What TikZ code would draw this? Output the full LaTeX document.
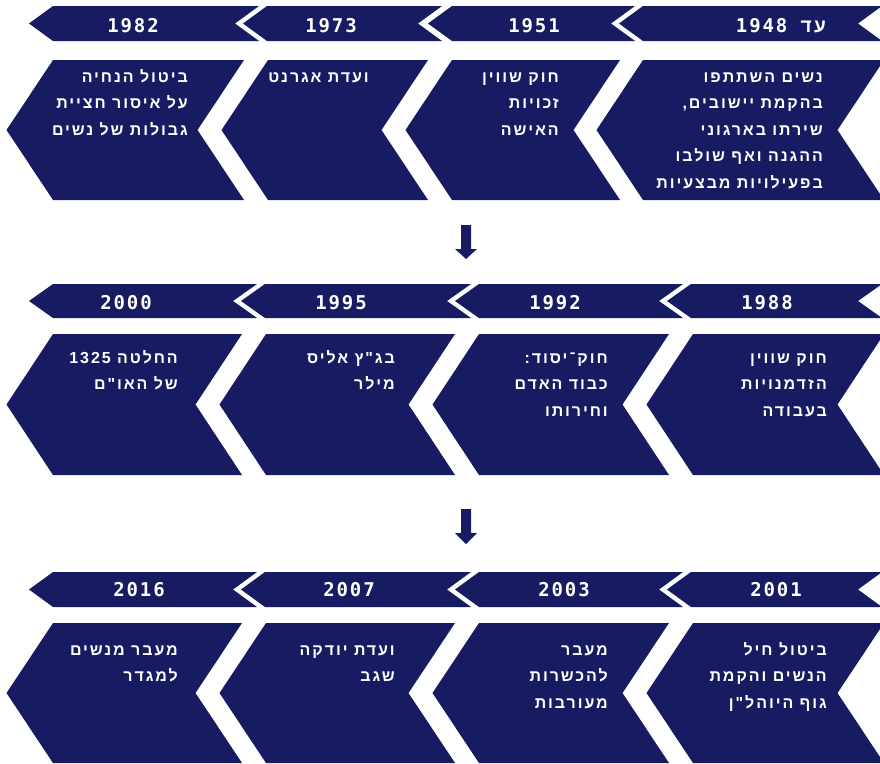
\documentclass[tikz,border=0pt]{standalone}
\usepackage{fontspec}
\newfontfamily\heb[Script=Hebrew]{Liberation Sans}
\newfontfamily\digits{DejaVu Sans Mono}
\TeXXeTstate=1
\definecolor{navy}{RGB}{22,27,98}
% xl, xr, ytop, ybottom, depth
\newcommand{\mychev}[5]{%
  \fill[navy] (#1,#3) -- (#2,#3) -- ({#2-#5},{(#3+#4)/2}) -- (#2,#4) -- (#1,#4) -- ({#1-#5},{(#3+#4)/2}) -- cycle;}
\newcommand{\fl}{\rule{0pt}{16pt}}
\begin{document}
\begin{tikzpicture}[x=1pt,y=-1pt,
  body/.style={font=\heb\bfseries\fontsize{16}{26.5}\selectfont\addfontfeature{LetterSpace=12}, text=white, align=right, anchor=north east, inner sep=0pt},
  year/.style={font=\digits\bfseries\fontsize{19}{19}\selectfont\addfontfeature{LetterSpace=10}, text=white, anchor=base, inner sep=0pt}]
\useasboundingbox (0,0) rectangle (880,763);
\clip (0,0) rectangle (880,763);
% ---------- row 1 ----------
\mychev{53}{259}{6}{41}{24}
\mychev{267}{442}{6}{41}{24}
\mychev{452}{635}{6}{41}{24}
\mychev{643}{882}{6}{41}{24}
\mychev{53}{244}{60}{200}{46.5}
\mychev{268}{428}{60}{200}{46.5}
\mychev{452}{620}{60}{200}{46.5}
\mychev{643}{884}{60}{200}{46.5}
% ---------- row 2 ----------
\mychev{53}{257}{284}{318}{24}
\mychev{265}{471}{284}{318}{24}
\mychev{479}{683}{284}{318}{24}
\mychev{691}{882}{284}{318}{24}
\mychev{53}{242}{334}{475}{46.5}
\mychev{266}{455}{334}{475}{46.5}
\mychev{479}{669}{334}{475}{46.5}
\mychev{693}{884}{334}{475}{46.5}
% ---------- row 3 ----------
\mychev{53}{257}{572}{607}{24}
\mychev{265}{471}{572}{607}{24}
\mychev{479}{683}{572}{607}{24}
\mychev{691}{882}{572}{607}{24}
\mychev{53}{242}{623}{763}{46.5}
\mychev{266}{455}{623}{763}{46.5}
\mychev{479}{669}{623}{763}{46.5}
\mychev{693}{884}{623}{763}{46.5}
% ---------- arrows ----------
\fill[navy] (461,225) -- (471,225) -- (471,249) -- (477,249) -- (466,259) -- (455,249) -- (461,249) -- cycle;
\fill[navy] (461,509) -- (471,509) -- (471,533) -- (477,533) -- (466,544) -- (455,533) -- (461,533) -- cycle;
% ---------- years ----------
\node[year] (y1982) at (133,32) {1982};
\node[year] (y1973) at (331,32) {1973};
\node[year] (y1951) at (534,32) {1951};
\node[year, anchor=base east] (y1948) at (826,32) {\beginR{\heb\bfseries\addfontfeature{LetterSpace=12}עד} \beginL1948\endL\endR};
\node[year] (y2000) at (126,309) {2000};
\node[year] (y1995) at (341,309) {1995};
\node[year] (y1992) at (555,309) {1992};
\node[year] (y1988) at (767,309) {1988};
\node[year] (y2016) at (139,596) {2016};
\node[year] (y2007) at (349,596) {2007};
\node[year] (y2003) at (564,596) {2003};
\node[year] (y2001) at (776,596) {2001};
% ---------- texts row 1 ----------
\node[body] (t1982) at (188,66) {\fl\beginR ביטול הנחיה\endR\\\beginR על איסור חציית\endR\\\beginR גבולות של נשים\endR};
\node[body] (t1973) at (369,66) {\fl\beginR ועדת אגרנט\endR};
\node[body] (t1951) at (559,66) {\fl\beginR חוק שווין\endR\\\beginR זכויות\endR\\\beginR האישה\endR};
\node[body] (t1948) at (823,66) {\fl\beginR נשים השתתפו\endR\\\beginR בהקמת יישובים,\endR\\\beginR שירתו בארגוני\endR\\\beginR ההגנה ואף שולבו\endR\\\beginR בפעילויות מבצעיות\endR};
% ---------- texts row 2 ----------
\node[body] (t2000) at (178,347) {\fl\beginR החלטה \beginL1325\endL\endR\\\beginR של האו"ם\endR};
\node[body] (t1995) at (395,347) {\fl\beginR בג"ץ אליס\endR\\\beginR מילר\endR};
\node[body] (t1992) at (608,347) {\fl\beginR חוק־יסוד:\endR\\\beginR כבוד האדם\endR\\\beginR וחירותו\endR};
\node[body] (t1988) at (827,347) {\fl\beginR חוק שווין\endR\\\beginR הזדמנויות\endR\\\beginR בעבודה\endR};
% ---------- texts row 3 ----------
\node[body] (t2016) at (178,639) {\fl\beginR מעבר מנשים\endR\\\beginR למגדר\endR};
\node[body] (t2007) at (395,639) {\fl\beginR ועדת יודקה\endR\\\beginR שגב\endR};
\node[body] (t2003) at (608,639) {\fl\beginR מעבר\endR\\\beginR להכשרות\endR\\\beginR מעורבות\endR};
\node[body] (t2001) at (827,639) {\fl\beginR ביטול חיל\endR\\\beginR הנשים והקמת\endR\\\beginR גוף היוהל"ן\endR};
\end{tikzpicture}
\end{document}
